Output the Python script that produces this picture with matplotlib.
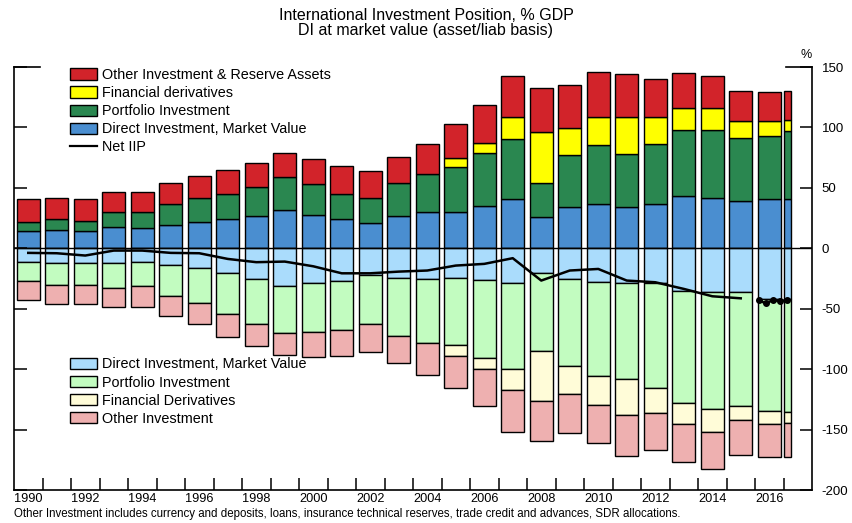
import numpy as np
import matplotlib.pyplot as plt
from matplotlib.patches import Patch
from matplotlib.lines import Line2D

plt.rcParams['font.family'] = ['Liberation Sans', 'DejaVu Sans']
plt.rcParams['axes.unicode_minus'] = False

# years of the bars, 2017 is Q1 only
years = list(range(1990, 2018))

# assets, % GDP
asset_direct = [14.1, 15.5, 14.1, 18.0, 16.6, 19.4, 21.9, 24.4, 26.6, 31.5, 27.9, 24.1, 20.8, 26.6,
                30.4, 30.4, 35.4, 40.4, 25.7, 34.0, 36.8, 34.0, 36.8, 43.1, 41.5, 39.5, 40.9, 41.0]
asset_portfolio = [7.5, 8.6, 8.6, 12.4, 13.8, 17.4, 19.6, 20.9, 23.7, 27.7, 25.2, 21.2, 20.4, 27.3,
                   30.7, 36.5, 43.6, 49.7, 28.5, 42.8, 48.3, 43.7, 49.7, 54.4, 56.0, 51.7, 52.0, 55.7]
asset_derivs = [0, 0, 0, 0, 0, 0, 0, 0, 0, 0, 0, 0, 0, 0,
                0, 8.0, 8.3, 18.5, 42.0, 23.0, 23.5, 30.9, 22.1, 18.5, 18.5, 13.8, 12.1, 9.3]
asset_other = [18.8, 17.7, 17.7, 16.1, 16.1, 17.4, 17.9, 19.1, 20.2, 19.8, 21.0, 22.7, 22.9, 21.5,
               25.4, 27.6, 31.5, 33.7, 36.4, 35.6, 37.3, 35.3, 31.7, 29.0, 26.6, 25.1, 24.2, 24.2]

# liabilities, % GDP (drawn below zero)
liab_direct = [11.5, 12.4, 12.4, 12.4, 11.5, 13.8, 16.5, 20.4, 25.4, 31.4, 28.9, 26.7, 22.0, 24.5,
               25.4, 24.5, 26.2, 28.9, 20.7, 25.4, 28.1, 28.9, 28.9, 35.0, 35.8, 35.8, 42.0, 42.0]
liab_portfolio = [15.2, 17.9, 17.9, 20.4, 19.9, 25.4, 28.7, 33.7, 37.5, 39.0, 40.1, 40.6, 40.9, 48.4,
                  53.2, 55.3, 64.9, 71.0, 64.0, 71.8, 77.3, 79.3, 86.8, 93.1, 97.3, 94.5, 92.4, 93.8]
liab_derivs = [0, 0, 0, 0, 0, 0, 0, 0, 0, 0, 0, 0, 0, 0,
               0, 9.6, 8.8, 17.1, 41.5, 23.4, 24.3, 29.8, 20.9, 17.4, 18.7, 11.6, 11.1, 9.1]
liab_other = [16.1, 16.0, 16.0, 16.0, 17.4, 17.1, 17.4, 19.6, 18.2, 17.9, 20.7, 21.6, 23.2, 22.0,
              26.3, 26.5, 30.4, 34.8, 33.1, 32.3, 31.8, 33.7, 30.2, 31.2, 31.0, 29.0, 27.6, 28.2]

# net IIP, annual 1990-2015 and quarterly 2016Q1-2017Q1
iip_years = list(range(1990, 2016))
net_iip = [-3.8, -4.1, -6.0, -1.9, -1.9, -3.8, -4.1, -8.8, -11.5, -11.0, -14.9, -20.7, -20.7,
           -19.3, -18.4, -14.3, -12.9, -8.2, -26.7, -18.4, -17.1, -26.7, -28.1, -33.6, -39.7, -41.4]
net_iip_q = [-43.0, -45.5, -43.0, -43.5, -43.0]

c_red, c_yellow, c_green, c_blue = '#d2232a', '#ffff00', '#2a8750', '#4a8ed0'
c_lblue, c_lgreen, c_cream, c_pink = '#aadcfc', '#c2fcc0', '#fffcd8', '#eeb0b0'

yr = np.array(years, dtype=float)
partial = yr == 2017
x = np.where(partial, yr, yr + 0.1)
w = np.where(partial, 0.25, 0.8)

fig = plt.figure(figsize=(8.52, 5.23), dpi=100)
ax = fig.add_axes([14 / 852, 33 / 523, 798 / 852, 423 / 523])

ekw = dict(align='edge', edgecolor='black', linewidth=1.0)
bottom = np.zeros(len(years))
for vals, col in [(asset_direct, c_blue), (asset_portfolio, c_green),
                  (asset_derivs, c_yellow), (asset_other, c_red)]:
    v = np.array(vals)
    m = v > 0
    ax.bar(x[m], v[m], w[m], bottom=bottom[m], color=col, **ekw)
    bottom += v
bottom = np.zeros(len(years))
for vals, col in [(liab_direct, c_lblue), (liab_portfolio, c_lgreen),
                  (liab_derivs, c_cream), (liab_other, c_pink)]:
    v = -np.array(vals)
    m = v < 0
    ax.bar(x[m], v[m], w[m], bottom=bottom[m], color=col, **ekw)
    bottom += v

ax.axhline(0, color='black', lw=1.0)
ax.plot(np.array(iip_years) + 0.5, net_iip, color='black', lw=1.8)
xq = 2016 + (np.arange(len(net_iip_q)) + 0.5) * 0.25
ax.plot(xq, net_iip_q, color='black', lw=1.8, marker='o', markersize=4)

ax.set_xlim(1990, 2018)
ax.set_ylim(-200, 150)
ax.set_yticks(np.arange(-200, 151, 50))
ax.tick_params(axis='y', left=True, right=True, labelleft=False, labelright=True,
               direction='in', length=9, width=1.1, labelsize=9.5, pad=7)
ax.set_xticks(np.arange(1991, 2018))
ax.set_xticks(np.arange(1990, 2017, 2) + 0.5, minor=True)
ax.set_xticklabels(np.arange(1990, 2017, 2), minor=True)
ax.tick_params(axis='x', which='major', direction='in', length=9, width=1.1, labelbottom=False)
ax.tick_params(axis='x', which='minor', length=0, labelsize=9.2, pad=2.5)
for s in ['left', 'right', 'bottom']:
    ax.spines[s].set_linewidth(1.2)
ax.spines['top'].set_visible(False)
ax.plot([0, 0.032], [1, 1], transform=ax.transAxes, color='black', lw=1.2, clip_on=False)
ax.plot([0.968, 1], [1, 1], transform=ax.transAxes, color='black', lw=1.2, clip_on=False)

h_top = [Patch(facecolor=c_red, edgecolor='black'), Patch(facecolor=c_yellow, edgecolor='black'),
         Patch(facecolor=c_green, edgecolor='black'), Patch(facecolor=c_blue, edgecolor='black'),
         Line2D([], [], color='black', lw=1.6)]
l_top = ['Other Investment & Reserve Assets', 'Financial derivatives', 'Portfolio Investment',
         'Direct Investment, Market Value', 'Net IIP']
lkw = dict(frameon=False, fontsize=10.4, handlelength=1.85, handleheight=0.8, handletextpad=0.4,
           labelspacing=0.28, borderpad=0, borderaxespad=0, loc='upper left',
           bbox_transform=fig.transFigure)
leg1 = ax.legend(h_top, l_top, bbox_to_anchor=(70 / 852, 1 - 68 / 523), **lkw)
ax.add_artist(leg1)
h_bot = [Patch(facecolor=c, edgecolor='black') for c in [c_lblue, c_lgreen, c_cream, c_pink]]
l_bot = ['Direct Investment, Market Value', 'Portfolio Investment', 'Financial Derivatives',
         'Other Investment']
ax.legend(h_bot, l_bot, bbox_to_anchor=(70 / 852, 1 - 357.5 / 523), **lkw)

fig.text(0.5, 1 - 16 / 523, 'International Investment Position, % GDP', ha='center',
         va='center', fontsize=11.5)
fig.text(0.5, 1 - 31 / 523, 'DI at market value (asset/liab basis)', ha='center',
         va='center', fontsize=11.5)
fig.text(806 / 852, 1 - 55 / 523, '%', ha='center', va='center', fontsize=9)
fig.text(14 / 852, 1 - 513.5 / 523, 'Other Investment includes currency and deposits, loans, '
         'insurance technical reserves, trade credit and advances, SDR allocations.',
         ha='left', va='center', fontsize=8.3)

fig.savefig('out.png', dpi=100)
